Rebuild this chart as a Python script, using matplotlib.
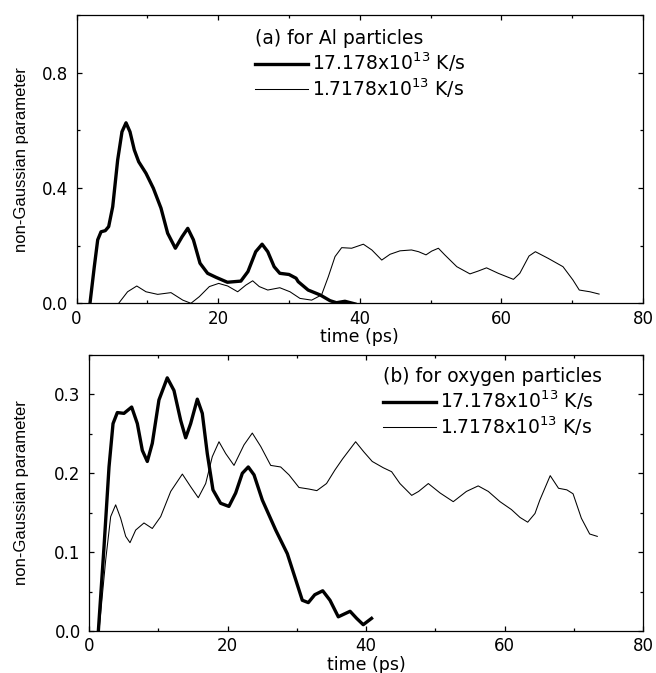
import matplotlib
matplotlib.use("Agg")
import matplotlib.pyplot as plt
from matplotlib.ticker import MultipleLocator, FormatStrFormatter

plt.rcParams['font.family'] = ['DejaVu Sans']
plt.rcParams['mathtext.fontset'] = 'dejavusans'

# ---- panel (a): Al particles ----
al_fast_t = [1.89, 2.5, 2.98, 3.45, 4.05, 4.53, 5.1, 5.8, 6.41, 6.98, 7.54, 8.15, 8.77, 9.8, 10.84,
             11.92, 12.86, 13.95, 14.9, 15.7, 16.5, 17.43, 18.5, 19.7, 21.3, 23.2, 24.2, 25.3, 26.2,
             27.0, 27.9, 28.7, 30.0, 31.0, 31.3, 32.7, 34.4, 35.8, 36.7, 37.9, 39.3]
al_fast_v = [0.0, 0.127, 0.22, 0.248, 0.252, 0.266, 0.335, 0.497, 0.595, 0.626, 0.595, 0.532, 0.491, 0.451, 0.399,
             0.33, 0.243, 0.191, 0.231, 0.26, 0.22, 0.139, 0.104, 0.09, 0.073, 0.077, 0.11, 0.179, 0.205,
             0.179, 0.127, 0.104, 0.1, 0.087, 0.075, 0.046, 0.029, 0.009, 0.002, 0.007, -0.002]

al_slow_t = [5.94, 7.2, 8.5, 9.8, 11.45, 13.33, 15.0, 16.15, 17.33, 18.75, 20.07, 21.34, 22.75, 23.9, 24.87,
             25.8, 27.0, 28.7, 30.14, 31.55, 33.2, 34.6, 35.55, 36.5, 37.44, 38.85, 40.5, 41.7, 43.1, 44.27,
             45.68, 47.3, 48.3, 49.35, 50.15, 51.1, 52.0, 53.7, 55.56, 56.74, 57.9, 59.56, 61.7, 62.6, 63.9,
             64.8, 66.6, 68.7, 70.1, 71.0, 72.5, 73.8]
al_slow_v = [0.0, 0.04, 0.06, 0.04, 0.031, 0.037, 0.011, 0.0, 0.023, 0.058, 0.069, 0.06, 0.04, 0.063, 0.078,
             0.058, 0.046, 0.054, 0.040, 0.017, 0.011, 0.029, 0.092, 0.162, 0.193, 0.191, 0.205, 0.185, 0.150, 0.17,
             0.182, 0.185, 0.179, 0.168, 0.181, 0.191, 0.168, 0.127, 0.102, 0.112, 0.123, 0.104, 0.083, 0.104, 0.164,
             0.179, 0.156, 0.127, 0.081, 0.046, 0.040, 0.032]

# ---- panel (b): oxygen particles ----
o_fast_t = [1.35, 2.17, 2.89, 3.47, 4.09, 5.05, 6.16, 6.98, 7.7, 8.42, 9.14, 10.1, 11.3, 12.27, 13.24,
            13.96, 14.68, 15.64, 16.36, 17.08, 17.9, 19.0, 20.2, 21.18, 22.14, 23.0, 23.83, 25.03, 26.96,
            28.64, 29.85, 30.8, 31.67, 32.6, 33.75, 34.8, 36.0, 37.7, 38.65, 39.6, 40.8]
o_fast_v = [0.0, 0.107, 0.208, 0.263, 0.277, 0.276, 0.284, 0.263, 0.229, 0.215, 0.238, 0.293, 0.321, 0.305, 0.267,
            0.245, 0.263, 0.294, 0.276, 0.225, 0.179, 0.162, 0.158, 0.175, 0.2, 0.208, 0.198, 0.166, 0.128,
            0.098, 0.065, 0.039, 0.036, 0.046, 0.051, 0.039, 0.018, 0.025, 0.016, 0.008, 0.016]

o_slow_t = [1.44, 2.41, 3.13, 3.85, 4.57, 5.3, 5.92, 6.74, 7.94, 9.14, 10.35, 11.8, 13.48, 14.68, 15.78,
            16.85, 17.8, 18.77, 19.74, 20.94, 22.38, 23.58, 24.8, 26.24, 27.68, 28.88, 30.32, 31.77, 32.9,
            34.3, 35.5, 36.6, 38.5, 39.7, 40.9, 42.5, 43.7, 44.9, 46.6, 47.6, 49.0, 50.7, 52.6, 54.5, 56.2,
            57.66, 59.35, 61.0, 62.24, 63.35, 64.4, 65.1, 66.6, 67.8, 69.0, 69.9, 71.1, 72.3, 73.4]
o_slow_v = [0.0, 0.09, 0.145, 0.16, 0.143, 0.12, 0.112, 0.128, 0.137, 0.130, 0.145, 0.177, 0.199, 0.183, 0.169,
            0.187, 0.221, 0.24, 0.225, 0.21, 0.236, 0.251, 0.234, 0.21, 0.208, 0.198, 0.182, 0.18, 0.178,
            0.187, 0.204, 0.218, 0.240, 0.227, 0.215, 0.207, 0.202, 0.187, 0.172, 0.177, 0.187, 0.175, 0.164, 0.177, 0.184,
            0.177, 0.164, 0.154, 0.144, 0.138, 0.149, 0.166, 0.197, 0.181, 0.179, 0.174, 0.143, 0.123, 0.120]

labels = ["17.178x10$^{13}$ K/s", "1.7178x10$^{13}$ K/s"]

fig = plt.figure(figsize=(6.56, 6.73), dpi=100)
ax1 = fig.add_axes([76.6 / 656, 1 - 303.3 / 673, 566.4 / 656, 288.3 / 673])
ax2 = fig.add_axes([89 / 656, 1 - 631 / 673, 554 / 656, 276 / 673])


def style(ax, ymax, ymajor, yminor, ylab_x):
    ax.set_xlim(0, 80)
    ax.set_ylim(0, ymax)
    ax.xaxis.set_major_locator(MultipleLocator(20))
    ax.xaxis.set_minor_locator(MultipleLocator(10))
    ax.yaxis.set_major_locator(MultipleLocator(ymajor))
    ax.yaxis.set_minor_locator(MultipleLocator(yminor))
    ax.yaxis.set_major_formatter(FormatStrFormatter('%.1f'))
    ax.tick_params(which='both', direction='in', top=True, right=True, labelsize=12)
    ax.tick_params(axis='y', pad=6)
    ax.tick_params(axis='x', pad=4.5)
    ax.tick_params(which='major', length=3.6, width=0.9)
    ax.tick_params(which='minor', length=2.0, width=0.9)
    for s in ax.spines.values():
        s.set_linewidth(0.9)
    ax.set_xlabel("time (ps)", fontsize=12.5, labelpad=0.5)
    ax.set_ylabel("non-Gaussian parameter", fontsize=12, family=['Liberation Sans', 'DejaVu Sans'])
    ax.yaxis.set_label_coords(ylab_x, 0.5)


def legend(ax, title, x, y):
    lg = ax.legend(title=title, loc='upper left', bbox_to_anchor=(x, y),
                   frameon=False, fontsize=13.5, title_fontsize=13.5, handlelength=2.8,
                   handletextpad=0.25, labelspacing=0.12, alignment='left',
                   borderaxespad=0, borderpad=0)
    return lg


ax1.plot(al_fast_t, al_fast_v, color='black', lw=2.4, label=labels[0])
ax1.plot(al_slow_t, al_slow_v, color='black', lw=0.75, label=labels[1])
style(ax1, 1.0, 0.4, 0.2, (29 - 76.6) / 566.4)
legend(ax1, "(a) for Al particles", (255 - 76.6) / 566.4, 0.95)

ax2.plot(o_fast_t, o_fast_v, color='black', lw=2.4, label=labels[0])
ax2.plot(o_slow_t, o_slow_v, color='black', lw=0.75, label=labels[1])
style(ax2, 0.35, 0.1, 0.05, (29 - 89) / 554)
legend(ax2, "(b) for oxygen particles", (383 - 89) / 554, 0.955)

fig.savefig("out.png", dpi=100)
